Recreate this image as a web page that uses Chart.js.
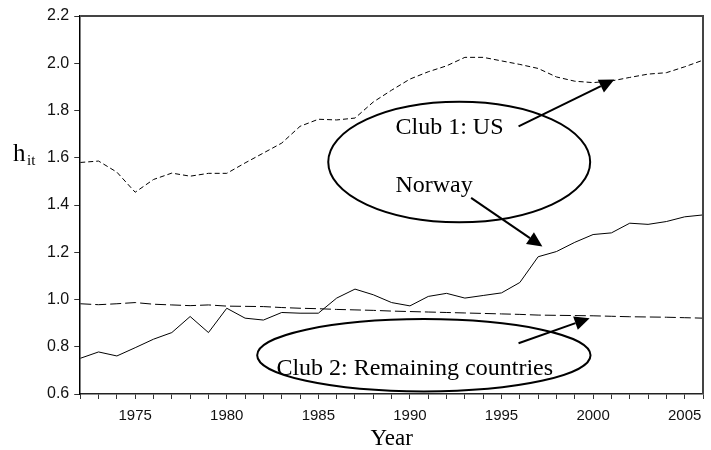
<!DOCTYPE html>
<html>
<head>
<meta charset="utf-8">
<script src="https://cdn.jsdelivr.net/npm/chart.js@4.4.1/dist/chart.umd.min.js"></script>
<style>
  html,body{margin:0;padding:0;background:#fff;}
  #wrap{width:711px;height:450px;position:relative;}
</style>
</head>
<body>
<div id="wrap"><canvas id="c"></canvas></div>
<script>
// h_it por año (1972–2006)
const years = [];
for(let y=1972;y<=2006;y++) years.push(y);

const usVals = [1.58,1.586,1.539,1.454,1.508,1.535,1.522,1.534,1.534,1.578,1.62,1.662,1.733,1.763,1.76,1.768,1.836,
  1.886,1.933,1.964,1.989,2.025,2.025,2.01,1.995,1.978,1.942,1.924,1.918,1.925,1.94,1.954,1.96,1.985,2.013];
const norwayVals = [0.751,0.778,0.761,0.796,0.832,0.86,0.928,0.86,0.963,0.921,0.913,0.945,0.942,0.942,1.006,1.044,1.02,
  0.987,0.973,1.013,1.026,1.006,1.017,1.028,1.072,1.181,1.203,1.242,1.275,1.282,1.323,1.318,1.33,1.35,1.358];
const restVals = [0.982,0.978,0.982,0.987,0.98,0.977,0.974,0.977,0.972,0.971,0.97,0.966,0.963,0.961,0.958,0.956,0.954,
  0.951,0.949,0.947,0.945,0.943,0.941,0.939,0.937,0.934,0.933,0.932,0.931,0.929,0.927,0.926,0.925,0.923,0.921];

// anotaciones (en unidades de datos: año, h_it)
const ellipses = [
  {x:1992.69, y:1.582, rx:7.15, ry:0.255},
  {x:1990.76, y:0.764, rx:9.1,  ry:0.153}
];
const notes = [
  {text:'Club 1: US', x:1989.21, y:1.702},
  {text:'Norway', x:1989.21, y:1.454},
  {text:'Club 2: Remaining countries', x:1982.71, y:0.680}
];
const arrows = [
  {x1:1995.93, y1:1.733, x2:2001.16, y2:1.931},
  {x1:1993.34, y1:1.430, x2:1997.23, y2:1.224},
  {x1:1995.93, y1:0.815, x2:1999.81, y2:0.921}
];

const pts = vals => vals.map((v,i)=>({x:years[i], y:v}));

const notesPlugin = {
  id:'notes',
  afterDatasetsDraw(chart){
    const {ctx, chartArea:a, scales:{x, y}} = chart;
    ctx.save();
    // marco superior y derecho
    ctx.strokeStyle = '#444'; ctx.lineWidth = 2;
    ctx.beginPath();
    ctx.moveTo(a.left, a.top); ctx.lineTo(a.right, a.top); ctx.lineTo(a.right, a.bottom);
    ctx.stroke();

    ctx.strokeStyle = '#000'; ctx.fillStyle = '#000'; ctx.lineWidth = 2;
    ellipses.forEach(e=>{
      const cx = x.getPixelForValue(e.x), cy = y.getPixelForValue(e.y);
      const rx = x.getPixelForValue(e.x+e.rx)-cx, ry = cy-y.getPixelForValue(e.y+e.ry);
      ctx.beginPath(); ctx.ellipse(cx, cy, rx, ry, 0, 0, 2*Math.PI); ctx.stroke();
    });
    arrows.forEach(r=>{
      const px1 = x.getPixelForValue(r.x1), py1 = y.getPixelForValue(r.y1);
      const px2 = x.getPixelForValue(r.x2), py2 = y.getPixelForValue(r.y2);
      const ang = Math.atan2(py2-py1, px2-px1), L = 15, W = 7;
      const bx = px2-L*Math.cos(ang), by = py2-L*Math.sin(ang);
      ctx.beginPath(); ctx.moveTo(px1, py1); ctx.lineTo(bx, by); ctx.stroke();
      ctx.beginPath();
      ctx.moveTo(px2, py2);
      ctx.lineTo(bx+W*Math.sin(ang), by-W*Math.cos(ang));
      ctx.lineTo(bx-W*Math.sin(ang), by+W*Math.cos(ang));
      ctx.closePath(); ctx.fill();
    });
    ctx.font = '24px "Liberation Serif", "Times New Roman", serif';
    ctx.textBaseline = 'alphabetic'; ctx.textAlign = 'left';
    notes.forEach(n=>ctx.fillText(n.text, x.getPixelForValue(n.x), y.getPixelForValue(n.y)));

    // título eje y: h_it
    const by = y.getPixelForValue(1.6)+3;
    ctx.font = '25px "Liberation Serif", serif';
    ctx.fillText('h', 13, by);
    ctx.font = '15px "Liberation Serif", serif';
    ctx.fillText('it', 27, by+4);
    ctx.restore();
  }
};

new Chart(document.getElementById('c'), {
  type:'line',
  data:{datasets:[
    {label:'US', data:pts(usVals), borderColor:'#000', borderWidth:1, borderDash:[5,3], pointRadius:0, tension:0, fill:false},
    {label:'Norway', data:pts(norwayVals), borderColor:'#000', borderWidth:1, pointRadius:0, tension:0, fill:false},
    {label:'Remaining countries', data:pts(restVals), borderColor:'#000', borderWidth:1, borderDash:[11,4], pointRadius:0, tension:0, fill:false}
  ]},
  options:{responsive:true, maintainAspectRatio:false, animation:false,
    layout:{padding:{left:42, right:3, top:16, bottom:0}},
    plugins:{legend:{display:false}, tooltip:{enabled:false}},
    scales:{
      x:{type:'linear', min:1972, max:2006,
        border:{color:'#222', width:1.5},
        grid:{drawOnChartArea:false, drawTicks:true, tickLength:5, tickColor:'#333'},
        ticks:{stepSize:1, autoSkip:false, maxRotation:0, padding:8, color:'#111',
          font:{family:'"Liberation Sans", Arial, sans-serif', size:15, lineHeight:1.2},
          callback:v=> v%5===0 ? String(v) : ''},
        title:{display:true, text:'Year', color:'#000', padding:{top:-6, bottom:0},
          font:{family:'"Liberation Serif", "Times New Roman", serif', size:23, lineHeight:1}}
      },
      y:{min:0.6, max:2.2,
        border:{color:'#000', width:1.5},
        grid:{drawOnChartArea:false, drawTicks:true, tickLength:6, tickColor:'#333'},
        ticks:{stepSize:0.2, padding:5, color:'#111',
          font:{family:'"Liberation Sans", Arial, sans-serif', size:16},
          callback:v=>v.toFixed(1)}
      }
    }
  },
  plugins:[notesPlugin]
});
</script>
</body>
</html>
